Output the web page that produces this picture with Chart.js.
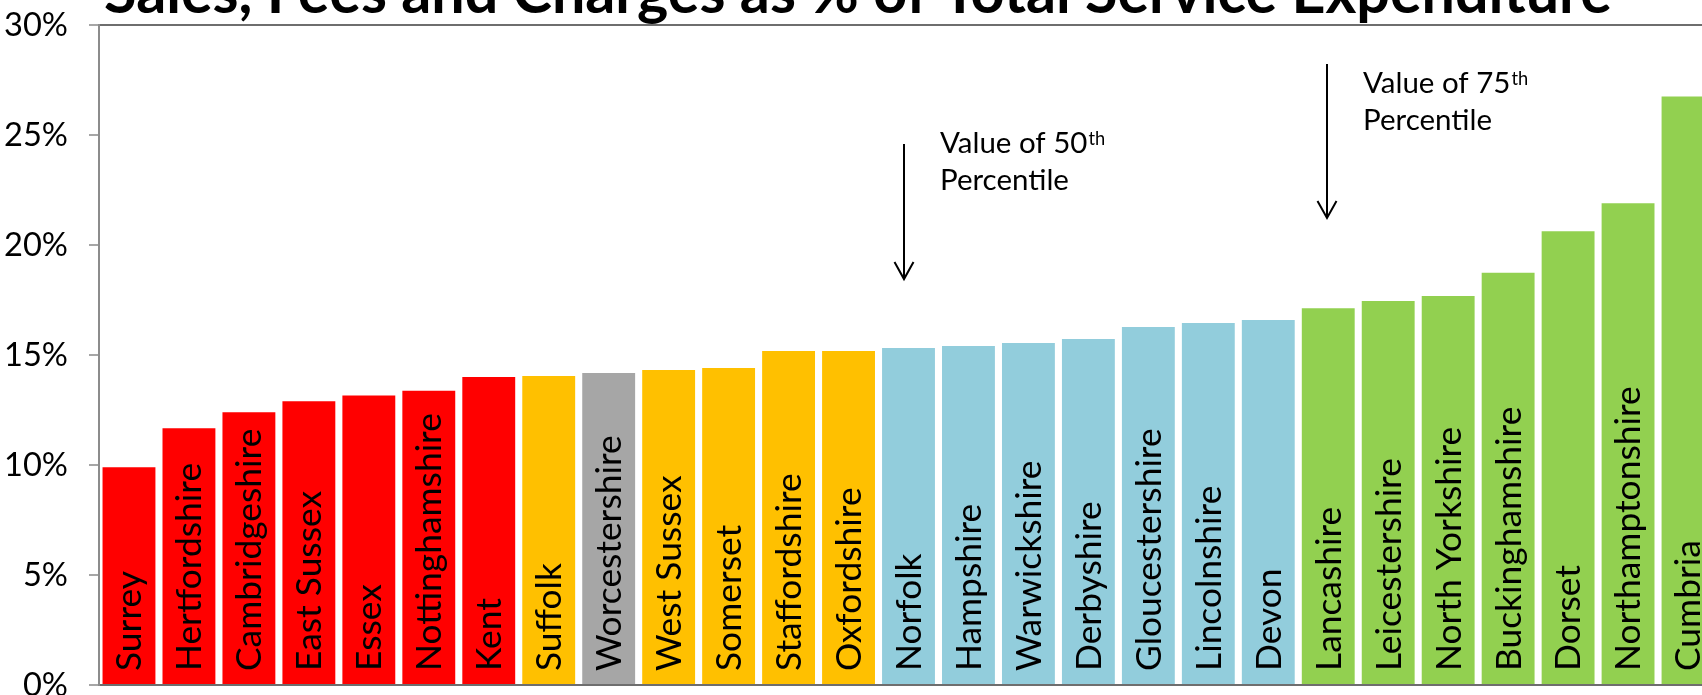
<!DOCTYPE html>
<html>
<head>
<meta charset="utf-8">
<script src="https://cdn.jsdelivr.net/npm/chart.js@4.4.1/dist/chart.umd.min.js"></script>
<style>
  html, body { margin: 0; padding: 0; background: #ffffff; width: 1702px; height: 695px; overflow: hidden; }
  #wrap { position: absolute; left: 0; top: 0; width: 1740px; height: 695px; }
</style>
</head>
<body>
<div id="wrap"><canvas id="chart" width="1740" height="695"></canvas></div>
<script>
// ---------------- data ----------------
const categories = ["Surrey", "Hertfordshire", "Cambridgeshire", "East Sussex", "Essex", "Nottinghamshire", "Kent",
  "Suffolk", "Worcestershire", "West Sussex", "Somerset", "Staffordshire", "Oxfordshire",
  "Norfolk", "Hampshire", "Warwickshire", "Derbyshire", "Gloucestershire", "Lincolnshire", "Devon",
  "Lancashire", "Leicestershire", "North Yorkshire", "Buckinghamshire", "Dorset", "Northamptonshire", "Cumbria"];
const values = [9.9, 11.67, 12.4, 12.9, 13.16, 13.37, 14.0,
  14.05, 14.18, 14.32, 14.41, 15.18, 15.18,
  15.32, 15.41, 15.55, 15.73, 16.27, 16.45, 16.59,
  17.13, 17.45, 17.68, 18.74, 20.62, 21.9, 26.75];
const bands = ["red", "red", "red", "red", "red", "red", "red",
  "amber", "grey", "amber", "amber", "amber", "amber",
  "blue", "blue", "blue", "blue", "blue", "blue", "blue",
  "green", "green", "green", "green", "green", "green", "green"];
const yTickValues = [0, 5, 10, 15, 20, 25, 30];
const chartTitle = "Sales, Fees and Charges as % of Total Service Expenditure";
const noteTexts = [["Value of 50", "th", "Percentile"], ["Value of 75", "th", "Percentile"]];

// ---------------- styles / layout ----------------
const bandColors = { red: "#FF0000", amber: "#FFC000", grey: "#A6A6A6", blue: "#92CDDC", green: "#92D050" };
const FONT = "Lato, 'Open Sans', sans-serif";
// annotation placement in axis units (category index, percent)
const notePlacement = [
  { arrowX: 12.925, arrowTop: 24.59, arrowTip: 18.45, textX: 13.525, textY: 24.18 },
  { arrowX: 19.98, arrowTop: 28.23, arrowTip: 21.23, textX: 20.58, textY: 26.91 }
];

const mctx = document.createElement("canvas").getContext("2d");
function fitSize(text, target, weight) {
  mctx.font = weight + " 100px " + FONT;
  const w = mctx.measureText(text).width;
  return w > 0 ? 100 * target / w : 30;
}
const tickSize = fitSize("30%", 64, "normal");
const labelSize = fitSize("Nottinghamshire", 258, "normal");
const noteSize = fitSize("Percentile", 129, "normal");
const titleSize = fitSize(chartTitle, 1508, "bold");

const decor = {
  id: "decor",
  afterDatasetsDraw(chart) {
    const ctx = chart.ctx;
    const xs = chart.scales.x, ys = chart.scales.y;
    const meta = chart.getDatasetMeta(0);
    ctx.save();
    ctx.fillStyle = "#000000";
    // vertical category labels inside bars
    ctx.font = labelSize + "px " + FONT;
    ctx.textAlign = "left";
    ctx.textBaseline = "middle";
    const baseY = ys.getPixelForValue(0) - 14;
    meta.data.forEach((bar, i) => {
      ctx.save();
      ctx.translate(bar.x + 1, baseY);
      ctx.rotate(-Math.PI / 2);
      ctx.fillText(categories[i], 0, 0);
      ctx.restore();
    });
    // percentile notes with arrows
    ctx.strokeStyle = "#000000";
    ctx.lineWidth = 2;
    ctx.textBaseline = "alphabetic";
    notePlacement.forEach((p, k) => {
      const ax = Math.round(xs.getPixelForValue(p.arrowX));
      const at = ys.getPixelForValue(p.arrowTop);
      const tip = ys.getPixelForValue(p.arrowTip);
      ctx.beginPath();
      ctx.moveTo(ax, at);
      ctx.lineTo(ax, tip);
      ctx.stroke();
      ctx.beginPath();
      ctx.moveTo(ax - 9.5, tip - 17);
      ctx.lineTo(ax, tip);
      ctx.lineTo(ax + 9.5, tip - 17);
      ctx.stroke();
      const tx = xs.getPixelForValue(p.textX);
      const ty = ys.getPixelForValue(p.textY);
      const [main, sup, line2] = noteTexts[k];
      ctx.font = noteSize + "px " + FONT;
      ctx.fillText(main, tx, ty);
      const mw = ctx.measureText(main).width;
      ctx.fillText(line2, tx, ty + noteSize * 1.25);
      ctx.font = (noteSize * 0.62) + "px " + FONT;
      ctx.fillText(sup, tx + mw + 1, ty - noteSize * 0.27);
    });
    ctx.restore();
  },
  afterDraw(chart) {
    const ctx = chart.ctx;
    ctx.save();
    ctx.fillStyle = "#000000";
    ctx.font = "bold " + titleSize + "px " + FONT;
    ctx.textAlign = "center";
    ctx.textBaseline = "alphabetic";
    ctx.fillText(chartTitle, 858, 13);
    ctx.restore();
  }
};

new Chart(document.getElementById("chart"), {
  type: "bar",
  data: {
    labels: categories,
    datasets: [{
      data: values,
      backgroundColor: bands.map(b => bandColors[b]),
      borderWidth: 0,
      barPercentage: 0.882,
      categoryPercentage: 1.0
    }]
  },
  options: {
    responsive: false,
    animation: false,
    devicePixelRatio: 1,
    layout: { padding: { left: 0, right: 22, top: 25, bottom: 10 } },
    plugins: { legend: { display: false }, tooltip: { enabled: false }, title: { display: false } },
    scales: {
      x: {
        type: "category",
        offset: true,
        grid: { display: false, drawTicks: false },
        border: { display: true, color: "#6E6E6E", width: 2 },
        ticks: { display: false },
        afterFit(s) { s.height = 0; s.paddingLeft = 0; s.paddingRight = 0; }
      },
      y: {
        min: 0,
        max: 30,
        afterBuildTicks(s) { s.ticks = yTickValues.map(v => ({ value: v })); },
        ticks: {
          callback: v => v + "%",
          color: "#000000",
          font: { family: FONT, size: tickSize },
          padding: 21
        },
        grid: {
          color: c => (c.tick && c.tick.value === 30) ? "#6E6E6E" : "rgba(0,0,0,0)",
          tickColor: "#A6A6A6",
          tickLength: 10,
          lineWidth: 2
        },
        border: { display: true, color: "#8C8C8C", width: 2 },
        afterFit(s) { s.width = 99; s.paddingTop = 0; s.paddingBottom = 0; }
      }
    }
  },
  plugins: [decor]
});
</script>
</body>
</html>
